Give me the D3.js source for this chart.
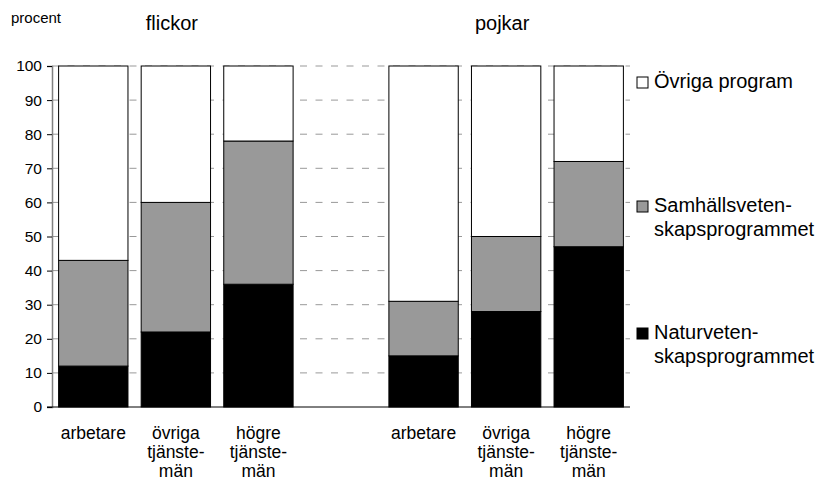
<!DOCTYPE html>
<html>
<head>
<meta charset="utf-8">
<script src="https://cdn.jsdelivr.net/npm/d3@7/dist/d3.min.js"></script>
<style>
  body { margin: 0; background: #fff; }
  svg { font-family: "Liberation Sans", Arial, sans-serif; }
</style>
</head>
<body>
<div id="chart"></div>
<script>
// Stacked bar chart: program choice by social background, girls and boys

var groups = ["flickor", "pojkar"];
var classes = [["arbetare"], ["övriga", "tjänste-", "män"], ["högre", "tjänste-", "män"]];
var natur = [12, 22, 36, 15, 28, 47];
var samhall = [31, 38, 42, 16, 22, 25];
var ovriga = [57, 40, 22, 69, 50, 28];
var yTicks = [0, 10, 20, 30, 40, 50, 60, 70, 80, 90, 100];
var seriesNames = ["Naturvetenskapsprogrammet", "Samhällsvetenskapsprogrammet", "Övriga program"];
var legendLines = [["Naturveten-", "skapsprogrammet"], ["Samhällsveten-", "skapsprogrammet"], ["Övriga program"]];
var colors = ["#000000", "#999999", "#ffffff"];

var W = 820, H = 480;
var m = {left: 52, right: 630, top: 66, bottom: 407};

// slots: three for girls, an empty gap, three for boys
var slots = ["f0", "f1", "f2", "gap", "p0", "p1", "p2"];
var rows = [];
groups.forEach(function(g, gi) {
	classes.forEach(function(c, ci) {
		var i = gi * 3 + ci;
		rows.push({ slot: slots[gi * 4 + ci], label: c,
			Naturvetenskapsprogrammet: natur[i],
			Samhällsvetenskapsprogrammet: samhall[i],
			"Övriga program": ovriga[i] });
	});
});

var x = d3.scaleBand().domain(slots).range([m.left, m.right])
	.paddingInner(0.16).paddingOuter(0.08);
var y = d3.scaleLinear().domain([0, 100]).range([m.bottom, m.top]);

var svg = d3.select("#chart").append("svg")
	.attr("width", W).attr("height", H);

// dashed gridlines behind the bars
svg.append("g").selectAll("line")
	.data(yTicks.filter(function(d) { return d > 0; }))
	.enter().append("line")
	  .attr("x1", m.left).attr("x2", m.right)
	  .attr("y1", function(d) { return y(d); })
	  .attr("y2", function(d) { return y(d); })
	  .attr("stroke", "#999")
	  .attr("stroke-dasharray", "7,8.5");

// stacked bars
var stack = d3.stack().keys(seriesNames)(rows);
svg.append("g").selectAll("g")
	.data(stack)
	.enter().append("g")
	  .attr("fill", function(d, i) { return colors[i]; })
	.selectAll("rect")
	.data(function(d) { return d; })
	.enter().append("rect")
	  .attr("x", function(d) { return x(d.data.slot); })
	  .attr("width", x.bandwidth())
	  .attr("y", function(d) { return y(d[1]); })
	  .attr("height", function(d) { return y(d[0]) - y(d[1]); })
	  .attr("stroke", "#000")
	  .attr("stroke-width", 1);

// y axis
var yAxis = svg.append("g")
	.attr("transform", "translate(" + m.left + ",0)")
	.call(d3.axisLeft(y).tickValues(yTicks).tickSize(5).tickPadding(5));
yAxis.select(".domain").attr("stroke", "#808080").attr("stroke-width", 1.5);
yAxis.selectAll("text").attr("font-size", "15.5px").attr("fill", "#000")
	.attr("font-family", "Liberation Sans, Arial, sans-serif");

// x baseline
svg.append("line")
	.attr("x1", m.left - 5).attr("x2", m.right)
	.attr("y1", m.bottom).attr("y2", m.bottom)
	.attr("stroke", "#000");

// category labels
svg.append("g").selectAll("text")
	.data(rows)
	.enter().append("text")
	  .attr("x", function(d) { return x(d.slot) + x.bandwidth() / 2; })
	  .attr("y", 439)
	  .attr("text-anchor", "middle")
	  .attr("font-size", "17.5px")
	  .each(function(d) {
		var t = d3.select(this);
		d.label.forEach(function(line, i) {
			t.append("tspan").attr("x", t.attr("x"))
				.attr("dy", i === 0 ? 0 : 19).text(line);
		});
	  });

// group titles
svg.append("g").selectAll("text")
	.data(groups)
	.enter().append("text")
	  .attr("x", function(d, i) { return x(slots[i * 4 + 1]) + x.bandwidth() / 2 - 4; })
	  .attr("y", 30)
	  .attr("text-anchor", "middle")
	  .attr("font-size", "20px")
	  .text(function(d) { return d; });

svg.append("text")
	.attr("x", 11).attr("y", 23)
	.attr("font-size", "15px")
	.text("procent");

// legend
var legendY = [339, 212, 88];
var legend = svg.append("g").selectAll("g")
	.data(seriesNames)
	.enter().append("g")
	  .attr("transform", function(d, i) { return "translate(637," + legendY[i] + ")"; });
legend.append("rect")
	.attr("x", 0).attr("y", -11)
	.attr("width", 11).attr("height", 11)
	.attr("fill", function(d, i) { return colors[i]; })
	.attr("stroke", "#000");
legend.append("text")
	.attr("x", 17).attr("y", 0)
	.attr("font-size", "20px")
	.each(function(d, i) {
		var t = d3.select(this);
		legendLines[i].forEach(function(line, j) {
			t.append("tspan").attr("x", 17).attr("dy", j === 0 ? 0 : 24).text(line);
		});
	});
</script>
</body>
</html>
